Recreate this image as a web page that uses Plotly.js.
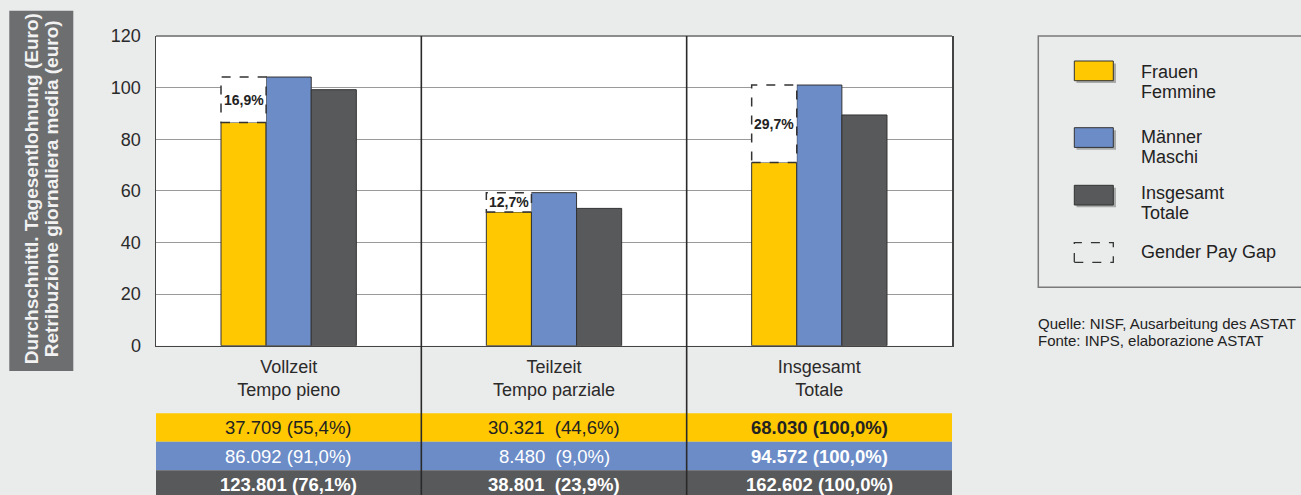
<!DOCTYPE html>
<html>
<head>
<meta charset="utf-8">
<script src="https://cdn.plot.ly/plotly-3.0.1.min.js"></script>
<style>
html,body{margin:0;padding:0;background:#eaebeb;}
#chart{width:1301px;height:495px;}
</style>
</head>
<body>
<div id="chart"></div>
<script>
// ---------- DATA ----------
const categoriesDE = ["Vollzeit", "Teilzeit", "Insgesamt"];
const categoriesIT = ["Tempo pieno", "Tempo parziale", "Totale"];
const seriesDE = ["Frauen", "Männer", "Insgesamt"];
const seriesIT = ["Femmine", "Maschi", "Totale"];
const frauen = [86.5, 51.8, 71.0];
const maenner = [104.1, 59.3, 101.0];
const insgesamt = [99.2, 53.2, 89.4];
const gapLabels = ["16,9%", "12,7%", "29,7%"];
const yTicks = [0, 20, 40, 60, 80, 100, 120];
const tableFrauen = ["37.709 (55,4%)", "30.321  (44,6%)", "68.030 (100,0%)"];
const tableMaenner = ["86.092 (91,0%)", "8.480  (9,0%)", "94.572 (100,0%)"];
const tableInsgesamt = ["123.801 (76,1%)", "38.801  (23,9%)", "162.602 (100,0%)"];
const yTitleLines = ["Durchschnittl. Tagesentlohnung (Euro)", "Retribuzione giornaliera media (euro)"];
const sourceLines = ["Quelle: NISF, Ausarbeitung des ASTAT", "Fonte: INPS, elaborazione ASTAT"];
const gapLegend = "Gender Pay Gap";

// ---------- STYLE ----------
const colors = ["#ffc800", "#6b8cc7", "#58595b"];
const W = 1301, H = 495, L = 156, R = 952, T = 36;
const px = x => (x - L) / (R - L);
const py = y => (H - y) / (H - T);
const FONT = "Liberation Sans, Arial, Helvetica, sans-serif";
const bargap = 0.49;
const bw = (1 - bargap) / 3;
const labels = categoriesDE.map((c, i) => c + "<br>" + categoriesIT[i]);
const n = labels.length;

const traces = [frauen, maenner, insgesamt].map((vals, k) => ({
  type: "bar",
  name: seriesDE[k] + " / " + seriesIT[k],
  x: labels,
  y: vals,
  marker: {color: colors[k], line: {color: "#333", width: 1}},
  hoverinfo: "y"
}));

const shapes = [];
const annotations = [];

// y-title box
shapes.push({type: "rect", xref: "paper", yref: "paper", x0: px(9.3), x1: px(73.3), y0: py(371), y1: py(10.7),
  fillcolor: "#6d6e70", line: {width: 0}, layer: "above"});
yTitleLines.forEach((t, j) => annotations.push({
  xref: "paper", yref: "paper", x: px(31.7 + 20 * j), y: py(188.5), text: "<b>" + t + "</b>", textangle: -90,
  showarrow: false, xanchor: "center", yanchor: "middle", font: {family: FONT, size: 19, color: "#f2f2f2"}
}));

// top frame line
shapes.push({type: "line", xref: "paper", yref: "paper", x0: 0, x1: 1, y0: 1, y1: 1, line: {color: "#8c8c8c", width: 2}});

// table rows
const rowTops = [413.3, 441.7, 470.3, 499];
const tableRows = [tableFrauen, tableMaenner, tableInsgesamt];
const tableTextColors = ["#222", "#ffffff", "#ffffff"];
tableRows.forEach((row, r) => {
  shapes.push({type: "rect", xref: "paper", yref: "paper", x0: 0, x1: 1, y0: py(rowTops[r + 1]), y1: py(rowTops[r]),
    fillcolor: colors[r], line: {width: 0}, layer: "above"});
  row.forEach((txt, i) => {
    const bold = (r === 2) || (i === n - 1);
    annotations.push({xref: "paper", yref: "paper", x: (i + 0.5) / n, y: py((rowTops[r] + Math.min(rowTops[r + 1], 498.5)) / 2),
      text: bold ? "<b>" + txt + "</b>" : txt, showarrow: false, xanchor: "center", yanchor: "middle",
      font: {family: FONT, size: 18.5, color: tableTextColors[r]}});
  });
});

// separators
for (let i = 1; i < n; i++) {
  shapes.push({type: "line", xref: "paper", yref: "paper", x0: i / n, x1: i / n, y0: py(500), y1: 1,
    line: {color: "#2a2a2a", width: 1.6}, layer: "above"});
}

// gender pay gap boxes
frauen.forEach((f, i) => {
  shapes.push({type: "rect", xref: "x", yref: "y", x0: i - 1.5 * bw, x1: i - 0.5 * bw, y0: f, y1: maenner[i],
    fillcolor: "#ffffff", line: {color: "#333", width: 1.5, dash: "dash"}, layer: "above"});
  annotations.push({xref: "x", yref: "y", x: i - bw, y: (f + maenner[i]) / 2, text: "<b>" + gapLabels[i] + "</b>",
    showarrow: false, xanchor: "center", yanchor: "middle", font: {family: FONT, size: 14, color: "#222"}});
});

// legend
shapes.push({type: "rect", xref: "paper", yref: "paper", x0: px(1038.3), x1: px(1320), y0: py(287.3), y1: py(36),
  fillcolor: "rgba(0,0,0,0)", line: {color: "#7a7a7a", width: 1.5}, layer: "above"});
const swTop = [61, 127.7, 185.3];
const txt1 = [71.7, 136.7, 193];
colors.forEach((c, k) => {
  shapes.push({type: "rect", xref: "paper", yref: "paper", x0: px(1076.5), x1: px(1116), y0: py(swTop[k] + 22), y1: py(swTop[k] + 2.5),
    fillcolor: "rgba(90,90,90,0.45)", line: {width: 0}, layer: "above"});
  shapes.push({type: "rect", xref: "paper", yref: "paper", x0: px(1074.3), x1: px(1113.3), y0: py(swTop[k] + 19.7), y1: py(swTop[k]),
    fillcolor: c, line: {color: "#333", width: 1}, layer: "above"});
  [seriesDE[k], seriesIT[k]].forEach((t, j) => annotations.push({
    xref: "paper", yref: "paper", x: px(1138.5), y: py(txt1[k] + 20 * j), text: t, showarrow: false,
    xanchor: "left", yanchor: "middle", font: {family: FONT, size: 18, color: "#222"}}));
});
shapes.push({type: "rect", xref: "paper", yref: "paper", x0: px(1074.3), x1: px(1113.3), y0: py(262.3), y1: py(242.7),
  fillcolor: "rgba(0,0,0,0)", line: {color: "#333", width: 1.3, dash: "dash"}, layer: "above"});
annotations.push({xref: "paper", yref: "paper", x: px(1138.5), y: py(251.7), text: gapLegend, showarrow: false,
  xanchor: "left", yanchor: "middle", font: {family: FONT, size: 18, color: "#222"}});

// source
sourceLines.forEach((t, j) => annotations.push({
  xref: "paper", yref: "paper", x: px(1036), y: py(323.3 + 16.7 * j), text: t, showarrow: false,
  xanchor: "left", yanchor: "middle", font: {family: FONT, size: 15, color: "#222"}}));

const layout = {
  width: W, height: H,
  margin: {l: L, r: W - R, t: T, b: 0, pad: 0},
  paper_bgcolor: "#eaebeb",
  plot_bgcolor: "#ffffff",
  barmode: "group",
  bargap: bargap,
  bargroupgap: 0,
  showlegend: false,
  font: {family: FONT, size: 18, color: "#222"},
  xaxis: {
    type: "category", domain: [0, 1],
    showline: true, linecolor: "#444", linewidth: 1.5,
    ticks: "outside", ticklen: 4, tickcolor: "rgba(0,0,0,0)",
    tickfont: {family: FONT, size: 18, color: "#2a2a2a"},
    showgrid: false, fixedrange: true
  },
  yaxis: {
    domain: [py(345.7), 1],
    range: [0, 120], tickvals: yTicks, ticktext: yTicks.map(String),
    showline: true, linecolor: "#444", linewidth: 1.5, mirror: true,
    showgrid: true, gridcolor: "#9a9a9a", gridwidth: 1, zeroline: false,
    ticks: "outside", ticklen: 10, tickcolor: "rgba(0,0,0,0)",
    tickfont: {family: FONT, size: 18, color: "#2a2a2a"},
    fixedrange: true
  },
  shapes: shapes,
  annotations: annotations
};

Plotly.newPlot("chart", traces, layout, {displayModeBar: false, staticPlot: true});
</script>
</body>
</html>
